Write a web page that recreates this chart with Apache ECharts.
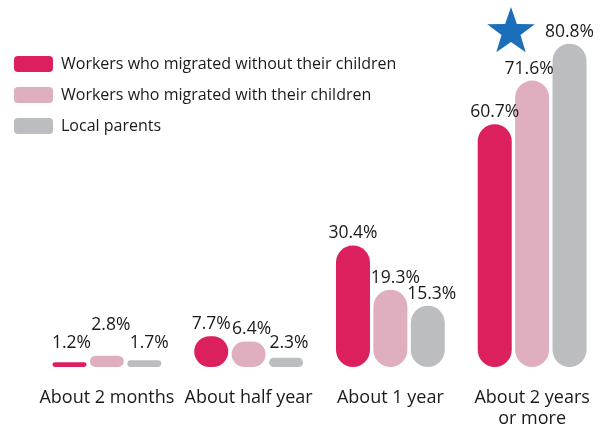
<!DOCTYPE html>
<html>
<head>
    <meta charset="utf-8">
    <title>Migrant workers - time away from children</title>
    <script src="https://cdn.jsdelivr.net/npm/echarts@6/dist/echarts.min.js"></script>
</head>
<body style="margin:0">
    <div id="main" style="width: 614px;height:429px;"></div>
    <script type="text/javascript">
        // categories and values (percent)
        var categories = ['About 2 months', 'About half year', 'About 1 year', 'About 2 years\nor more'];
        var seriesNames = ['Workers who migrated without their children', 'Workers who migrated with their children', 'Local parents'];
        var withoutChildren = [1.2, 7.7, 30.4, 60.7];
        var withChildren = [2.8, 6.4, 19.3, 71.6];
        var localParents = [1.7, 2.3, 15.3, 80.8];

        var colors = ['#dc1f5d', '#dfafc0', '#bcbdc1'];
        var font = 'Open Sans';

        // label nudges [dx, dy] in px, per series / category, so labels don't collide
        var labelNudge = {
            0: {0: [2, -7]},
            1: {0: [4, -19], 1: [3, 0], 2: [5, 0], 3: [-3, 0]},
            2: {0: [5, -5], 1: [3, -3], 2: [4, 0]}
        };

        var myChart = echarts.init(document.getElementById('main'));

        function makeSeries(idx, values) {
            return {
                name: seriesNames[idx],
                type: 'bar',
                barWidth: 34,
                barGap: '10%',
                itemStyle: {color: colors[idx], borderRadius: 17},
                label: {
                    show: true,
                    position: 'top',
                    distance: 3,
                    color: '#1a1a1a',
                    fontFamily: font,
                    fontSize: 17.5,
                    formatter: function (p) { return p.value.toFixed(1) + '%'; }
                },
                data: values.map(function (v, i) {
                    var nudge = labelNudge[idx] && labelNudge[idx][i];
                    return nudge ? {value: v, label: {offset: nudge}} : v;
                })
            };
        }

        // star decoration above the last group
        function starPoints(cx, cy, R, r) {
            var pts = [];
            for (var k = 0; k < 10; k++) {
                var a = -Math.PI / 2 + k * Math.PI / 5;
                var rad = k % 2 === 0 ? R : r;
                pts.push([cx + rad * Math.cos(a), cy + rad * Math.sin(a)]);
            }
            return pts;
        }

        var option = {
            animation: false,
            color: colors,
            grid: {left: 36, right: 11, top: 7, bottom: 62, outerBoundsMode: 'none'},
            legend: {
                orient: 'vertical',
                left: 9,
                top: 51,
                itemWidth: 39,
                itemHeight: 16,
                itemGap: 15,
                icon: 'roundRect',
                textStyle: {fontFamily: font, fontSize: 16, color: '#1a1a1a', padding: [0, 0, 0, 3]},
                data: seriesNames
            },
            xAxis: {
                type: 'category',
                data: categories,
                axisLine: {show: false},
                axisTick: {show: false},
                axisLabel: {
                    margin: 20,
                    fontFamily: font,
                    fontSize: 18,
                    lineHeight: 21,
                    color: '#1a1a1a',
                    interval: 0
                }
            },
            yAxis: {
                type: 'value',
                min: 0,
                max: 90,
                show: false
            },
            graphic: [{
                type: 'polygon',
                shape: {points: starPoints(511, 32, 25, 10)},
                style: {fill: '#1b6fba'}
            }],
            series: [
                makeSeries(0, withoutChildren),
                makeSeries(1, withChildren),
                makeSeries(2, localParents)
            ]
        };

        myChart.setOption(option);
    </script>
</body>
</html>
